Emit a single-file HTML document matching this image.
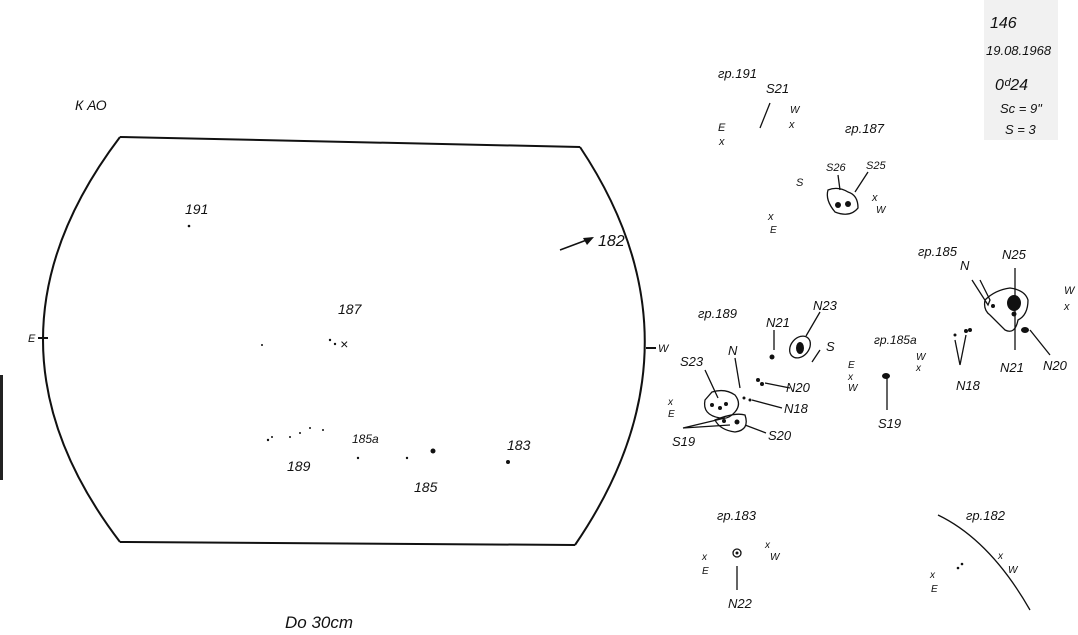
<!DOCTYPE html>
<html><head><style>
body{margin:0;background:#fff;width:1078px;height:635px;overflow:hidden}
svg{display:block}
text{font-family:"Liberation Sans",sans-serif;fill:#111;font-style:italic}
</style></head><body>
<svg width="1078" height="635" viewBox="0 0 1078 635" xmlns="http://www.w3.org/2000/svg">
<rect x="984" y="0" width="74" height="140" fill="#f1f1f1"/>
<rect x="0" y="375" width="3" height="105" fill="#222"/>
<g fill="none" stroke="#111" stroke-width="2">
<path d="M120 137 L580 147"/>
<path d="M580 147 Q712 345 575 545"/>
<path d="M120 542 L575 545"/>
<path d="M120 137 Q-34 340 120 542"/>
<path d="M38 338 L48 338 M646 348 L656 348"/>
</g>
<g font-size="14">
<text x="75" y="110">К  АО</text>
<text x="185" y="214">191</text>
<text x="338" y="314">187</text>
<text x="28" y="342" font-size="11">E</text>
<text x="658" y="352" font-size="11">W</text>
<text x="598" y="246" font-size="16">182</text>
<text x="287" y="471">189</text>
<text x="352" y="443" font-size="12">185a</text>
<text x="414" y="492">185</text>
<text x="507" y="450">183</text>
<text x="285" y="628" font-size="17">Do   30cm</text>
</g>
<path d="M560 250 L592 238" stroke="#111" stroke-width="1.5"/>
<path d="M594 237 L583 238 L587 245 Z" fill="#111"/>
<g fill="#111">
<circle cx="189" cy="226" r="1.3"/><circle cx="330" cy="340" r="1.2"/><circle cx="335" cy="344" r="1.2"/>
<circle cx="262" cy="345" r="1"/><circle cx="268" cy="440" r="1.2"/><circle cx="272" cy="437" r="1"/>
<circle cx="290" cy="437" r="1"/><circle cx="300" cy="433" r="1"/><circle cx="310" cy="428" r="1"/><circle cx="323" cy="430" r="1"/>
<circle cx="358" cy="458" r="1.2"/><circle cx="407" cy="458" r="1.2"/><circle cx="433" cy="451" r="2.5"/><circle cx="508" cy="462" r="2"/>
</g>
<text x="340" y="349" font-size="14" fill="#555">×</text>
<g font-size="13">
<text x="990" y="28" fill="#777" font-size="16">146</text>
<text x="986" y="55">19.08.1968</text>
<text x="995" y="90" font-size="16">0ᵈ24</text>
<text x="1000" y="113">Sc = 9"</text>
<text x="1005" y="134">S = 3</text>
<text x="718" y="78">гр.191</text>
<text x="766" y="93">S21</text>
<text x="790" y="113" font-size="10">W</text>
<text x="789" y="128" font-size="11">x</text>
<text x="718" y="131" font-size="11">E</text>
<text x="719" y="145" font-size="11">x</text>
<text x="845" y="133">гр.187</text>
<text x="796" y="186" font-size="11">S</text>
<text x="826" y="171" font-size="11">S26</text>
<text x="866" y="169" font-size="11">S25</text>
<text x="872" y="201" font-size="11">x</text><text x="876" y="213" font-size="10">W</text>
<text x="768" y="220" font-size="11">x</text><text x="770" y="233" font-size="10">E</text>
<text x="698" y="318">гр.189</text>
<text x="766" y="327">N21</text>
<text x="813" y="310">N23</text>
<text x="826" y="351">S</text>
<text x="728" y="355">N</text>
<text x="680" y="366">S23</text>
<text x="786" y="392">N20</text>
<text x="784" y="413">N18</text>
<text x="768" y="440">S20</text>
<text x="672" y="446">S19</text>
<text x="668" y="405" font-size="10">x</text><text x="668" y="417" font-size="10">E</text>
<text x="874" y="344" font-size="12" fill="#555">гр.185a</text>
<text x="848" y="368" font-size="10">E</text><text x="848" y="380" font-size="10">x</text><text x="848" y="391" font-size="10">W</text>
<text x="916" y="360" font-size="10">W</text><text x="916" y="371" font-size="10">x</text>
<text x="878" y="428">S19</text>
<text x="918" y="256">гр.185</text>
<text x="960" y="270">N</text>
<text x="1002" y="259">N25</text>
<text x="1064" y="294" font-size="11">W</text><text x="1064" y="310" font-size="11">x</text>
<text x="1000" y="372">N21</text>
<text x="1043" y="370">N20</text>
<text x="956" y="390">N18</text>
<text x="717" y="520">гр.183</text>
<text x="702" y="560" font-size="10">x</text><text x="702" y="574" font-size="10">E</text>
<text x="765" y="548" font-size="10">x</text><text x="770" y="560" font-size="10">W</text>
<text x="728" y="608">N22</text>
<text x="966" y="520">гр.182</text>
<text x="998" y="559" font-size="10">x</text><text x="1008" y="573" font-size="10">W</text>
<text x="930" y="578" font-size="10">x</text><text x="931" y="592" font-size="10">E</text>
</g>
<g fill="none" stroke="#111" stroke-width="1.3">
<path d="M770 103 L760 128"/>
<path d="M828 190 Q825 200 835 212 Q850 218 858 208 Q858 195 848 192 Q838 186 828 190Z"/>
<path d="M838 175 L840 190 M868 172 L855 192"/>
<ellipse cx="800" cy="347" rx="9" ry="12" transform="rotate(40 800 347)"/>
<path d="M806 336 L820 312 M774 330 L774 350 M820 350 L812 362 M735 358 L740 388 M790 388 L765 383 M782 408 L752 400 M705 370 L718 398 M766 433 L745 425"/>
<path d="M705 400 Q702 415 720 418 Q728 420 735 412 Q742 404 735 395 Q725 388 712 392 Z"/>
<path d="M715 420 Q720 430 735 432 Q750 430 745 415 Q735 412 715 420Z"/>
<path d="M683 428 L725 418 M683 428 L730 425"/>
<path d="M887 378 L887 410"/>
<path d="M972 280 L988 305 L990 300 L980 280 M985 300 Q995 290 1010 288 Q1025 290 1028 300 Q1028 315 1018 320 Q1015 335 1005 330 Q995 320 990 315 Q983 310 985 300"/>
<path d="M1015 268 L1015 350 M1030 330 L1050 355 M960 365 L966 335 M960 365 L955 340"/>
<path d="M737 566 L737 590"/>
<circle cx="737" cy="553" r="4"/>
<path d="M938 515 Q990 540 1030 610"/>
</g>
<g fill="#111">
<circle cx="772" cy="357" r="2.5"/><ellipse cx="800" cy="348" rx="4" ry="6"/><circle cx="838" cy="205" r="3"/><circle cx="848" cy="204" r="3"/>
<circle cx="758" cy="380" r="2"/><circle cx="762" cy="384" r="2"/><circle cx="744" cy="398" r="1.5"/><circle cx="750" cy="400" r="1.5"/>
<circle cx="712" cy="405" r="2"/><circle cx="720" cy="408" r="2"/><circle cx="726" cy="404" r="2"/><circle cx="737" cy="422" r="2.5"/><circle cx="724" cy="421" r="2"/>
<ellipse cx="886" cy="376" rx="4" ry="3"/>
<ellipse cx="1014" cy="303" rx="7" ry="8"/><circle cx="1014" cy="314" r="2.5"/><circle cx="993" cy="306" r="2"/><ellipse cx="1025" cy="330" rx="4" ry="3"/>
<circle cx="955" cy="335" r="1.5"/><circle cx="966" cy="331" r="2"/><circle cx="970" cy="330" r="2"/>
<circle cx="737" cy="553" r="1.5"/><circle cx="958" cy="568" r="1.3"/><circle cx="962" cy="564" r="1.3"/>
</g>
</svg>
</body></html>
